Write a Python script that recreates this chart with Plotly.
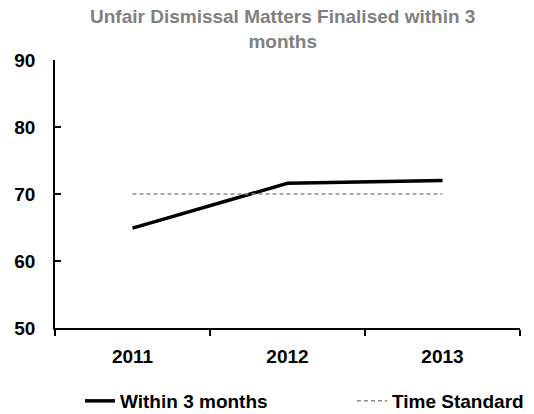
import plotly.graph_objects as go

years = ["2011", "2012", "2013"]
within_3_months = [64.9, 71.6, 72.0]
time_standard = [70, 70, 70]
y_ticks = [50, 60, 70, 80, 90]

FONT = "Liberation Sans, Arial, sans-serif"
W, H = 534, 414

fig = go.Figure()
fig.add_trace(go.Scatter(
    x=years, y=within_3_months, mode="lines", name="Within 3 months",
    line=dict(color="black", width=3.5), legend="legend",
))
fig.add_trace(go.Scatter(
    x=years, y=time_standard, mode="lines", name="Time Standard",
    line=dict(color="#8c8c8c", width=1.5, dash="4px,3px"), legend="legend2",
))

legend_font = dict(family=FONT, size=19, color="black", weight="bold")

fig.update_layout(
    width=W, height=H,
    margin=dict(l=55, r=14, t=60, b=86),
    paper_bgcolor="white", plot_bgcolor="white",
    font=dict(family=FONT, size=19, color="black"),
    showlegend=True,
    legend=dict(
        orientation="h", xref="container", yref="container",
        x=80 / W, xanchor="left", y=13 / H, yanchor="middle",
        font=legend_font, bgcolor="rgba(0,0,0,0)",
    ),
    legend2=dict(
        orientation="h", xref="container", yref="container",
        x=352 / W, xanchor="left", y=13 / H, yanchor="middle",
        font=legend_font, bgcolor="rgba(0,0,0,0)",
    ),
    annotations=[dict(
        text="<b>Unfair Dismissal Matters Finalised within 3<br>months</b>",
        xref="paper", yref="paper", x=0.49, y=1.0 + 6 / 268,
        xanchor="center", yanchor="bottom", showarrow=False,
        font=dict(family=FONT, size=19, color="#808080"),
    )],
    xaxis=dict(
        type="category", range=[-0.5, 2.5],
        showline=True, linecolor="black", linewidth=1.5,
        ticks="outside", tickson="boundaries", ticklen=6, tickcolor="black",
        tickwidth=1.5, showgrid=False, zeroline=False,
        tickfont=dict(family=FONT, size=19, color="black", weight="bold"),
        ticklabelstandoff=10,
    ),
    yaxis=dict(
        range=[50, 90], tickvals=y_ticks,
        showline=True, linecolor="black", linewidth=1.5,
        ticks="inside", ticklen=6, tickcolor="black", tickwidth=1.5,
        showgrid=False, zeroline=False,
        tickfont=dict(family=FONT, size=19, color="black", weight="bold"),
        ticklabelstandoff=14,
    ),
)

fig.write_html("out.html")
